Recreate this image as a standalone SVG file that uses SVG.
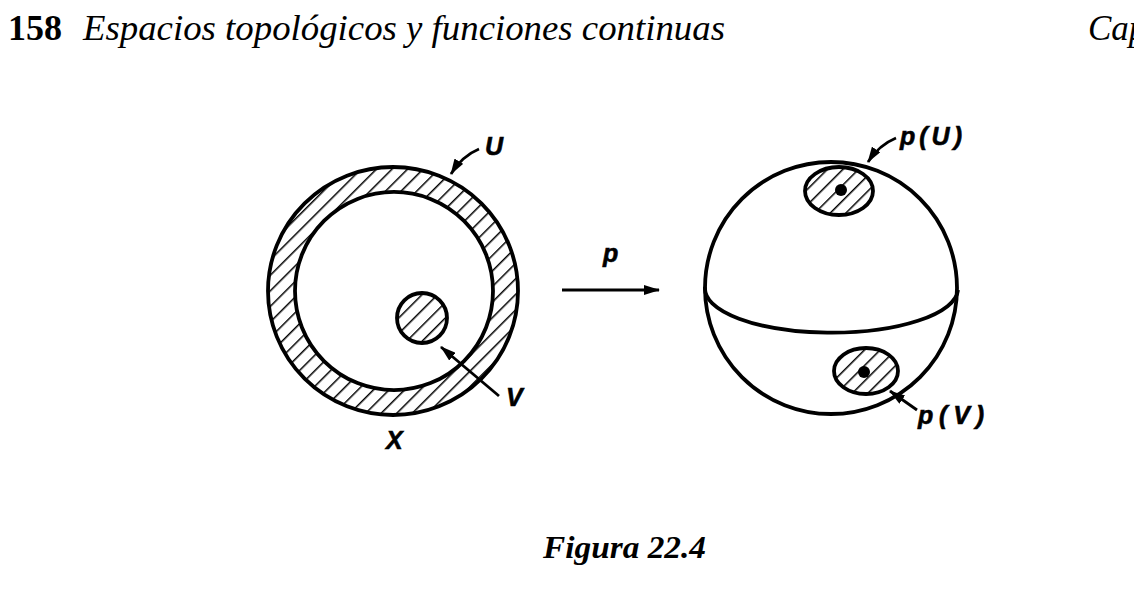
<svg xmlns="http://www.w3.org/2000/svg" width="1134" height="596" viewBox="0 0 1134 596">
<style>
.ser{font-family:"Liberation Serif","Times New Roman",serif;fill:#000}
.lab{font-family:"Liberation Sans",Arial,sans-serif;font-weight:bold;font-style:italic;font-size:25px;fill:#000;stroke:#000;stroke-width:0.6}
.ol{fill:none;stroke:#000;stroke-width:3.8}
.hf{fill:url(#hatch);stroke:#000;stroke-width:3.8}
.con{fill:none;stroke:#000;stroke-width:2.8}
</style>
<defs>
<pattern id="hatch" width="11" height="11" patternUnits="userSpaceOnUse" patternTransform="rotate(45)">
<rect width="11" height="11" fill="#fff"/>
<line x1="0" y1="0" x2="0" y2="11" stroke="#000" stroke-width="3"/>
</pattern>
<marker id="ah" viewBox="0 0 16 10" refX="15" refY="5" markerWidth="16" markerHeight="10" markerUnits="userSpaceOnUse" orient="auto">
<path d="M0,0 L16,5 L0,10 Z" fill="#000"/>
</marker>
</defs>
<rect width="1134" height="596" fill="#fff"/>
<g id="header">
<text class="ser" x="8" y="40" font-size="36" font-weight="bold" textLength="54" lengthAdjust="spacingAndGlyphs">158</text>
<text class="ser" x="83" y="40" font-size="35" font-style="italic" textLength="642" lengthAdjust="spacingAndGlyphs">Espacios topológicos y funciones continuas</text>
<text class="ser" x="1088" y="40" font-size="35" font-style="italic">Cap</text>
</g>
<g id="space-X">
<path class="hf" fill-rule="evenodd" d="M268,291 A125,124 0 1,0 518,291 A125,124 0 1,0 268,291 Z M295,291 A99,99 0 1,1 493,291 A99,99 0 1,1 295,291 Z"/>
<circle class="hf" cx="422" cy="318" r="25"/>
<text class="lab" x="386" y="449">X</text>
</g>
<g id="sphere">
<circle class="ol" cx="831" cy="288" r="126"/>
<path class="ol" d="M705,287 A126,44 0 0,0 958,290"/>
<ellipse class="hf" cx="839" cy="191" rx="34" ry="24"/>
<circle cx="841" cy="190" r="6" fill="#000"/>
<ellipse class="hf" cx="866" cy="371" rx="32" ry="23"/>
<circle cx="864" cy="372" r="6" fill="#000"/>
</g>
<g id="labels">
<text class="lab" x="485" y="155">U</text>
<text class="lab" x="506" y="406">V</text>
<text class="lab" x="603" y="262">p</text>
<text class="lab" x="900" y="145" textLength="62" lengthAdjust="spacing">p(U)</text>
<text class="lab" x="918" y="424" textLength="66" lengthAdjust="spacing">p(V)</text>
</g>
<g id="connectors">
<path class="con" d="M479,149 Q462,156 451,174" marker-end="url(#ah)"/>
<path class="con" d="M499,396 L441,347" marker-end="url(#ah)"/>
<path class="con" d="M562,290 L659,290" marker-end="url(#ah)"/>
<path class="con" d="M896,138 Q879,145 868,162" marker-end="url(#ah)"/>
<path class="con" d="M917,410 L890,391" marker-end="url(#ah)"/>
</g>
<g id="caption">
<text class="ser" x="543" y="558" font-size="31" font-weight="bold" font-style="italic" textLength="163" lengthAdjust="spacingAndGlyphs">Figura 22.4</text>
</g>
</svg>
